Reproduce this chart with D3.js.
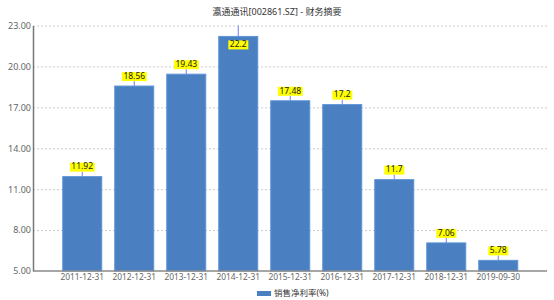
<!DOCTYPE html>
<html>
<head>
<meta charset="utf-8">
<script src="https://cdn.jsdelivr.net/npm/d3@7"></script>
<style>
  body { margin: 0; background: #fff; }
  text { font-family: "Noto Sans", "Noto Sans CJK SC", sans-serif; }
</style>
</head>
<body>
<div id="chart"></div>
<script>
// chart data
var categories = ["2011-12-31", "2012-12-31", "2013-12-31", "2014-12-31", "2015-12-31",
                  "2016-12-31", "2017-12-31", "2018-12-31", "2019-09-30"];
var netMargin = [11.92, 18.56, 19.43, 22.2, 17.48, 17.2, 11.7, 7.06, 5.78];
var yTicks = [5, 8, 11, 14, 17, 20, 23];
var titleText = "瀛通通讯[002861.SZ] - 财务摘要";
var seriesName = "销售净利率(%)";

var svgWidth = 554;
var svgHeight = 300;
var margin = { top: 25.5, right: 4, bottom: 29, left: 33 };
var chartWidth = svgWidth - margin.left - margin.right;
var chartHeight = svgHeight - margin.top - margin.bottom;

var svg = d3.select("#chart")
  .append("svg")
  .attr("width", svgWidth)
  .attr("height", svgHeight);

// title
svg.append("text")
  .attr("x", 277)
  .attr("y", 13)
  .attr("text-anchor", "middle")
  .attr("dominant-baseline", "middle")
  .attr("font-size", "9px")
  .attr("fill", "#333")
  .text(titleText);

var chartGroup = svg.append("g")
  .attr("transform", `translate(${margin.left}, ${margin.top})`);

// scales
var xScale = d3.scaleBand()
  .domain(categories)
  .range([23.5, 491])
  .paddingInner(0.25)
  .paddingOuter(0.12);

var yScale = d3.scaleLinear()
  .domain([5, 23])
  .range([chartHeight, 0]);

// grid lines
chartGroup.selectAll(".grid")
  .data(yTicks.slice(1))
  .enter()
  .append("line")
  .attr("x1", 0)
  .attr("x2", chartWidth - 3)
  .attr("y1", d => yScale(d) + 0.5)
  .attr("y2", d => yScale(d) + 0.5)
  .attr("stroke", "#ccc")
  .attr("stroke-dasharray", "2,2");

// bars
chartGroup.selectAll("rect.bar")
  .data(netMargin)
  .enter()
  .append("rect")
  .attr("class", "bar")
  .attr("x", (d, i) => xScale(categories[i]))
  .attr("y", d => yScale(d))
  .attr("width", xScale.bandwidth())
  .attr("height", d => chartHeight - yScale(d))
  .attr("fill", "#4a80c2")
  .attr("stroke", "#5d93d4")
  .attr("stroke-width", 1);

// value labels with connector lines
var labels = chartGroup.selectAll("g.lbl")
  .data(netMargin)
  .enter()
  .append("g")
  .attr("class", "lbl");

labels.each(function(d, i) {
  var g = d3.select(this);
  var cx = xScale(categories[i]) + xScale.bandwidth() / 2;
  var top = yScale(d);
  var inside = top - 14 < 0;
  var ly = inside ? top + 8.5 : top - 9.5;
  g.append("line")
    .attr("x1", cx).attr("x2", cx)
    .attr("y1", top)
    .attr("y2", inside ? 0 : top - 5)
    .attr("stroke", "#6f7ff0")
    .attr("stroke-width", 1);
  var t = g.append("text")
    .attr("x", cx)
    .attr("y", ly)
    .attr("text-anchor", "middle")
    .attr("dominant-baseline", "middle")
    .attr("font-size", "8.5px")
    .attr("fill", "#222")
    .text(d);
  var bb = t.node().getBBox();
  g.insert("rect", "text")
    .attr("x", bb.x - 1.5)
    .attr("y", ly - 4.5)
    .attr("width", bb.width + 3)
    .attr("height", 9)
    .attr("fill", "#ffff00");
});

// axes
var yAxis = d3.axisLeft(yScale)
  .tickValues(yTicks)
  .tickSize(0)
  .tickPadding(2)
  .tickFormat(d3.format(".2f"));

var yG = chartGroup.append("g").call(yAxis);
yG.select(".domain").attr("stroke", "#777").attr("stroke-width", 1.5);
yG.selectAll("text").attr("font-size", "9px").attr("fill", "#666")
  .attr("font-family", "\"Liberation Sans\", Arial, sans-serif");

var xAxis = d3.axisBottom(xScale).tickSize(0).tickPadding(3);
var xG = chartGroup.append("g")
  .attr("transform", `translate(0, ${chartHeight})`)
  .call(xAxis);
xG.select(".domain").attr("d", `M0,0H${chartWidth - 3}`).attr("stroke", "#888").attr("stroke-width", 1.5);
xG.selectAll("text").attr("font-size", "8.4px").attr("fill", "#666")
  .attr("font-family", "\"Liberation Sans\", Arial, sans-serif");

// legend
svg.append("rect")
  .attr("x", 257)
  .attr("y", 291)
  .attr("width", 14)
  .attr("height", 5)
  .attr("fill", "#4a80c2");

svg.append("text")
  .attr("x", 274)
  .attr("y", 293.5)
  .attr("dominant-baseline", "middle")
  .attr("font-size", "8.5px")
  .attr("fill", "#333")
  .text(seriesName);
</script>
</body>
</html>
